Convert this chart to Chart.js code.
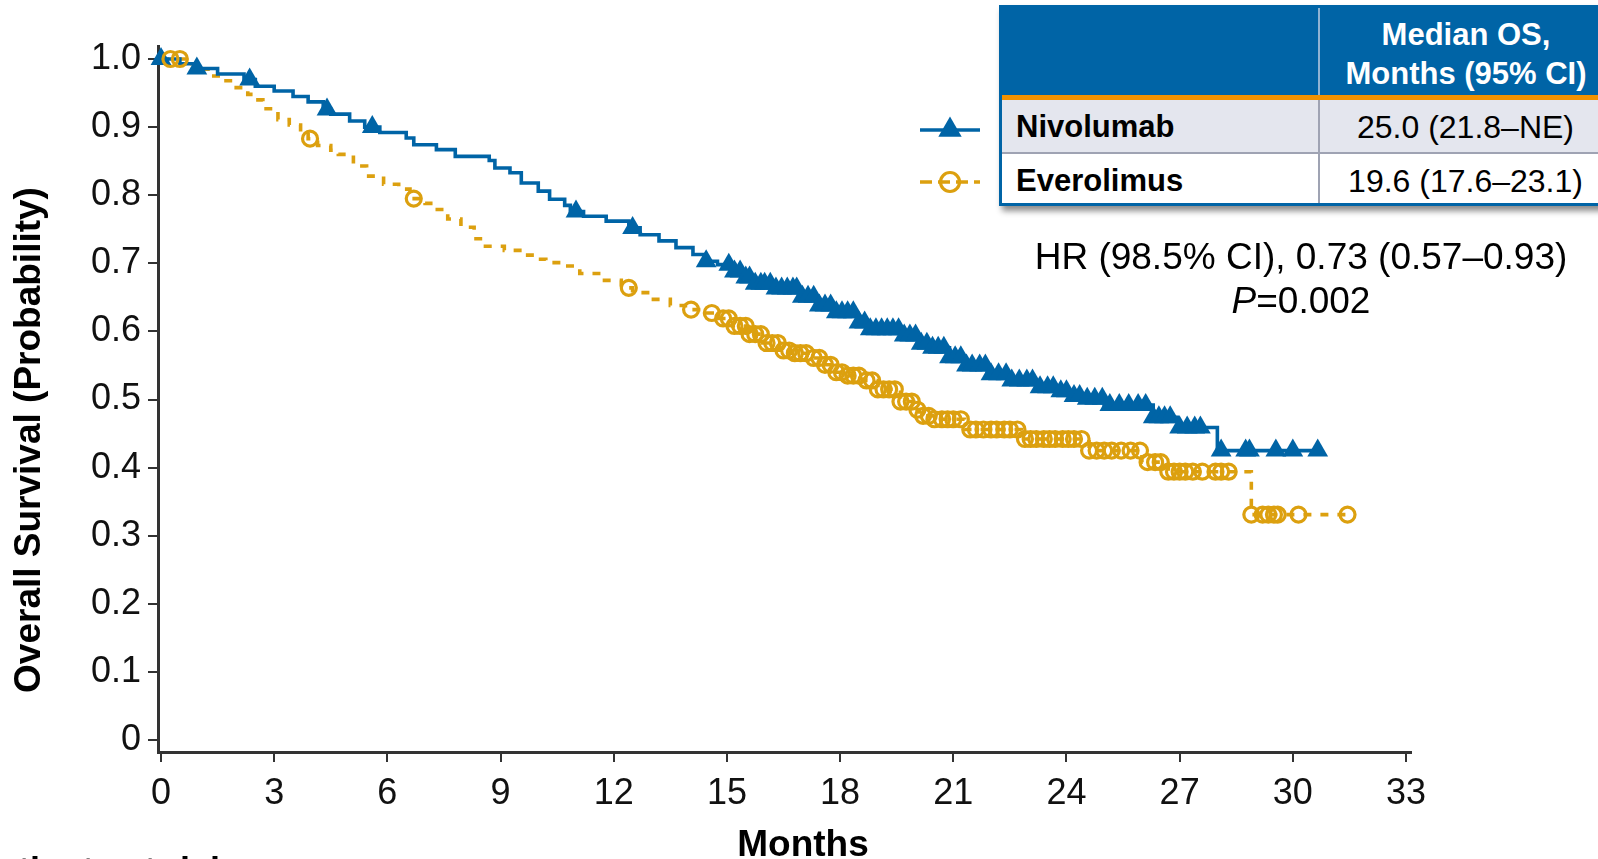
<!DOCTYPE html>
<html>
<head>
<meta charset="utf-8">
<script src="https://cdn.jsdelivr.net/npm/chart.js@4.4.1/dist/chart.umd.min.js"></script>
<style>
  html, body { margin: 0; padding: 0; background: #fff; }
  #wrap { position: relative; width: 1598px; height: 859px; overflow: hidden;
          font-family: "Liberation Sans", Arial, sans-serif; color: #000; }
  #km { position: absolute; left: 0; top: 0; }
  .txt { position: absolute; white-space: nowrap; }
  #ytitle { left: -271.6px; top: 420px; width: 600px; height: 40px; line-height: 40px;
            text-align: center; font-weight: bold; font-size: 37px; transform: rotate(-90deg); }
  #xtitle { left: 603px; top: 824px; width: 400px; line-height: 40px; text-align: center;
            font-weight: bold; font-size: 37px; }
  #risk { left: -26px; top: 851px; line-height: 40px; font-weight: bold; font-size: 36px; }
  #hr { left: 951px; top: 235px; width: 700px; line-height: 44px; text-align: center; font-size: 37px; }
  #tbl { position: absolute; left: 999px; top: 5px; width: 615px; height: 201px; box-sizing: border-box;
         border: 3px solid #0064a6; background: #fff; box-shadow: 3px 5px 6px rgba(0,0,0,0.45); }
  #tbl .cell { position: absolute; }
  #hdr { left: 0; top: 0; right: 0; height: 87px; background: #0064a6; }
  #hdrTxt { left: 319px; right: 0; top: 7px; text-align: center; color: #fff; font-weight: bold;
            font-size: 31px; line-height: 39px; }
  #rule { left: 0; right: 0; top: 87px; height: 5px; background: #f39200; }
  #row1 { left: 0; right: 0; top: 92px; height: 52px; background: #e4e6ee; }
  #sep { left: 0; right: 0; top: 144px; height: 2px; background: #9fa3b3; }
  #row2 { left: 0; right: 0; top: 146px; height: 49px; background: #fff; }
  #vdivH { left: 316px; top: 0; width: 2px; height: 87px; background: #8fb3d3; }
  #vdivB { left: 316px; top: 92px; width: 2px; height: 103px; background: #9fa3b3; }
  .name { left: 14px; font-weight: bold; font-size: 31px; line-height: 36px; }
  .val { left: 318px; right: 0; text-align: center; font-size: 32px; line-height: 36px; }
</style>
</head>
<body>
<div id="wrap">
  <canvas id="km" width="1598" height="859"></canvas>
  <div id="ytitle" class="txt">Overall Survival (Probability)</div>
  <div id="xtitle" class="txt">Months</div>
  <div id="risk" class="txt">Patients at risk</div>
  <div id="tbl">
    <div id="hdr" class="cell"></div>
    <div id="vdivH" class="cell"></div>
    <div id="hdrTxt" class="cell">Median OS,<br>Months (95% CI)</div>
    <div id="rule" class="cell"></div>
    <div id="row1" class="cell"></div>
    <div id="sep" class="cell"></div>
    <div id="row2" class="cell"></div>
    <div id="vdivB" class="cell"></div>
    <div class="cell name" style="top:101px;">Nivolumab</div>
    <div class="cell val" style="top:101px;">25.0 (21.8–NE)</div>
    <div class="cell name" style="top:155px;">Everolimus</div>
    <div class="cell val" style="top:155px;">19.6 (17.6–23.1)</div>
  </div>
  <div id="hr" class="txt">HR (98.5% CI), 0.73 (0.57–0.93)<br><i>P</i>=0.002</div>
</div>

<script>
// Kaplan–Meier overall survival, months since randomization
const xTicks = [0, 3, 6, 9, 12, 15, 18, 21, 24, 27, 30, 33];
const yTicks = [0, 0.1, 0.2, 0.3, 0.4, 0.5, 0.6, 0.7, 0.8, 0.9, 1.0];

// Nivolumab: event times and survival after each step
const nivoTime = [0, 0.5, 0.9, 1.5, 2.2, 2.5, 3.0, 3.5, 3.9, 4.3, 4.5, 5.0, 5.4, 5.8, 6.5, 6.7,
  7.3, 7.8, 8.7, 8.85, 9.25, 9.55, 10.0, 10.3, 10.7, 10.85, 11.2, 11.8, 12.4, 12.7, 13.2, 13.65,
  14.1, 14.4, 14.75, 15.2, 15.45, 15.7, 16.2, 16.9, 17.35, 17.8, 18.45, 18.8, 19.6, 20.05, 20.4,
  20.9, 21.3, 21.9, 22.5, 23.2, 23.7, 24.1, 24.5, 25.0, 26.3, 26.95, 28.0, 30.7];
const nivoSurv = [1.0, 0.993, 0.986, 0.978, 0.970, 0.960, 0.953, 0.945, 0.937, 0.926, 0.919,
  0.909, 0.900, 0.892, 0.884, 0.874, 0.867, 0.857, 0.851, 0.840, 0.833, 0.818, 0.806, 0.794,
  0.785, 0.776, 0.769, 0.762, 0.752, 0.742, 0.733, 0.723, 0.713, 0.703, 0.698, 0.688, 0.679,
  0.670, 0.663, 0.651, 0.638, 0.628, 0.613, 0.603, 0.594, 0.582, 0.576, 0.562, 0.550, 0.537,
  0.528, 0.518, 0.512, 0.505, 0.501, 0.492, 0.474, 0.459, 0.425, 0.425];
// Nivolumab: censored observations
const nivoCensor = [0, 0.95, 2.35, 4.4, 5.6, 11.0, 12.5, 14.45, 15.05, 15.2, 15.35, 15.5, 15.6,
  15.75, 15.9, 16.0, 16.15, 16.3, 16.45, 16.6, 16.75, 16.85, 17.0, 17.15, 17.3, 17.45, 17.6,
  17.75, 17.9, 18.05, 18.2, 18.35, 18.5, 18.65, 18.8, 18.95, 19.1, 19.25, 19.4, 19.55, 19.7,
  19.85, 20.0, 20.15, 20.3, 20.45, 20.6, 20.75, 20.9, 21.05, 21.2, 21.35, 21.5, 21.7, 21.85,
  22.0, 22.2, 22.4, 22.55, 22.75, 22.95, 23.1, 23.3, 23.5, 23.65, 23.85, 24.0, 24.2, 24.35,
  24.55, 24.75, 24.95, 25.15, 25.4, 25.65, 25.9, 26.1, 26.3, 26.45, 26.6, 26.75, 27.0, 27.2,
  27.4, 27.55, 28.1, 28.75, 28.85, 29.55, 30.0, 30.66];

// Everolimus: event times and survival after each step
const everoTime = [0, 0.7, 1.0, 1.3, 1.6, 1.9, 2.3, 2.45, 2.7, 3.1, 3.4, 3.7, 3.9, 4.15, 4.5,
  4.7, 5.1, 5.45, 5.9, 6.3, 6.6, 7.0, 7.15, 7.6, 7.95, 8.3, 8.6, 9.1, 9.6, 9.9, 10.2, 10.6, 11.1,
  11.6, 12.2, 12.5, 12.95, 13.5, 13.9, 14.4, 14.8, 15.15, 15.55, 15.95, 16.4, 16.7, 17.2, 17.5,
  17.8, 18.2, 18.6, 19.0, 19.6, 19.95, 20.1, 20.5, 21.3, 22.8, 24.6, 26.0, 26.7, 28.9, 31.46];
const everoSurv = [1.0, 0.993, 0.985, 0.975, 0.968, 0.958, 0.948, 0.940, 0.927, 0.911, 0.903,
  0.892, 0.883, 0.873, 0.866, 0.860, 0.843, 0.828, 0.816, 0.809, 0.795, 0.788, 0.779, 0.765,
  0.753, 0.736, 0.725, 0.719, 0.712, 0.706, 0.701, 0.696, 0.685, 0.675, 0.664, 0.657, 0.647,
  0.638, 0.632, 0.627, 0.619, 0.608, 0.596, 0.583, 0.572, 0.568, 0.561, 0.551, 0.540, 0.535,
  0.528, 0.515, 0.497, 0.485, 0.476, 0.471, 0.456, 0.442, 0.425, 0.408, 0.394, 0.331, 0.331];
// Everolimus: censored observations
const everoCensor = [0.25, 0.5, 3.95, 6.7, 12.4, 14.05, 14.6, 14.9, 15.05, 15.2, 15.35, 15.5,
  15.6, 15.75, 15.9, 16.05, 16.2, 16.35, 16.5, 16.65, 16.8, 16.95, 17.1, 17.3, 17.45, 17.6,
  17.75, 17.9, 18.05, 18.2, 18.35, 18.5, 18.7, 18.85, 19.0, 19.15, 19.3, 19.45, 19.6, 19.75,
  19.9, 20.05, 20.2, 20.35, 20.5, 20.7, 20.85, 21.0, 21.2, 21.45, 21.6, 21.8, 22.0, 22.15,
  22.35, 22.5, 22.7, 22.9, 23.05, 23.2, 23.4, 23.55, 23.7, 23.9, 24.05, 24.2, 24.4, 24.6, 24.8,
  25.0, 25.2, 25.45, 25.7, 25.95, 26.15, 26.35, 26.5, 26.7, 26.85, 27.0, 27.15, 27.35, 27.6,
  27.95, 28.1, 28.3, 28.9, 29.2, 29.35, 29.5, 29.6, 30.15, 31.45];

const BLUE = '#0064a6';
const GOLD = '#dca00f';
const FONT = '"Liberation Sans", Arial, sans-serif';

// survival level of a step curve at time t
function stepAt(times, surv, t) {
  let v = surv[0];
  for (let i = 0; i < times.length; i++) {
    if (times[i] <= t) v = surv[i]; else break;
  }
  return v;
}
const curve = (times, surv) => times.map((t, i) => ({ x: t, y: surv[i] }));
const marks = (censor, times, surv) => censor.map(t => ({ x: t, y: stepAt(times, surv, t) }));

// legend keys drawn beside the median OS table
const legendKeys = {
  id: 'legendKeys',
  afterDraw(chart) {
    const ctx = chart.ctx;
    ctx.save();
    ctx.lineWidth = 3.5;
    ctx.strokeStyle = BLUE;
    ctx.beginPath(); ctx.moveTo(920, 130); ctx.lineTo(980, 130); ctx.stroke();
    const r = 13.5, cx = 950, cy = 130;
    ctx.fillStyle = BLUE;
    ctx.beginPath();
    ctx.moveTo(cx, cy - r);
    ctx.lineTo(cx + r * Math.sin(2 * Math.PI / 3), cy + r / 2);
    ctx.lineTo(cx - r * Math.sin(2 * Math.PI / 3), cy + r / 2);
    ctx.closePath(); ctx.fill();
    ctx.strokeStyle = GOLD;
    ctx.setLineDash([12, 6]);
    ctx.beginPath(); ctx.moveTo(920, 182); ctx.lineTo(980, 182); ctx.stroke();
    ctx.setLineDash([]);
    ctx.lineWidth = 3.2;
    ctx.beginPath(); ctx.arc(950, 182, 9.5, 0, Math.PI * 2); ctx.stroke();
    ctx.restore();
  }
};

new Chart(document.getElementById('km'), {
  type: 'line',
  data: {
    datasets: [
      { label: 'Everolimus', data: curve(everoTime, everoSurv), stepped: true,
        borderColor: GOLD, borderWidth: 3.6, borderDash: [8, 9], pointRadius: 0, fill: false, order: 4 },
      { label: 'Nivolumab', data: curve(nivoTime, nivoSurv), stepped: true,
        borderColor: BLUE, borderWidth: 3.6, pointRadius: 0, fill: false, order: 3 },
      { label: 'Nivolumab censored', data: marks(nivoCensor, nivoTime, nivoSurv), showLine: false,
        pointStyle: 'triangle', pointRadius: 12, pointBackgroundColor: BLUE, pointBorderColor: BLUE,
        pointBorderWidth: 0, clip: false, order: 2 },
      { label: 'Everolimus censored', data: marks(everoCensor, everoTime, everoSurv), showLine: false,
        pointStyle: 'circle', pointRadius: 7.5, pointBackgroundColor: 'rgba(0,0,0,0)',
        pointBorderColor: GOLD, pointBorderWidth: 3.2, clip: false, order: 1 }
    ]
  },
  options: {
    responsive: false,
    devicePixelRatio: 1,
    animation: false,
    events: [],
    layout: { padding: { left: 0, top: 46, right: 187, bottom: 0 } },
    plugins: { legend: { display: false }, tooltip: { enabled: false } },
    scales: {
      x: {
        type: 'linear', min: -0.0795, max: 33.1325,
        afterBuildTicks: s => { s.ticks = xTicks.map(v => ({ value: v })); },
        afterFit: s => { s.height = 107; },
        border: { display: true, color: '#333', width: 3 },
        grid: { display: true, drawOnChartArea: false, drawTicks: true, tickLength: 10,
                color: '#333', lineWidth: 2 },
        ticks: { color: '#111', padding: 10, maxRotation: 0, autoSkip: false,
                 font: { family: FONT, size: 36 }, callback: v => String(v) }
      },
      y: {
        type: 'linear', min: -0.0176, max: 1.0191,
        afterBuildTicks: s => { s.ticks = yTicks.map(v => ({ value: v })); },
        afterFit: s => { s.width = 158; },
        border: { display: true, color: '#333', width: 3 },
        grid: { display: true, drawOnChartArea: false, drawTicks: true, tickLength: 10,
                color: '#333', lineWidth: 2 },
        ticks: { color: '#111', padding: 7, autoSkip: false,
                 font: { family: FONT, size: 36 },
                 callback: v => (v === 0 ? '0' : Number(v).toFixed(1)) }
      }
    }
  },
  plugins: [legendKeys]
});
</script>
</body>
</html>
